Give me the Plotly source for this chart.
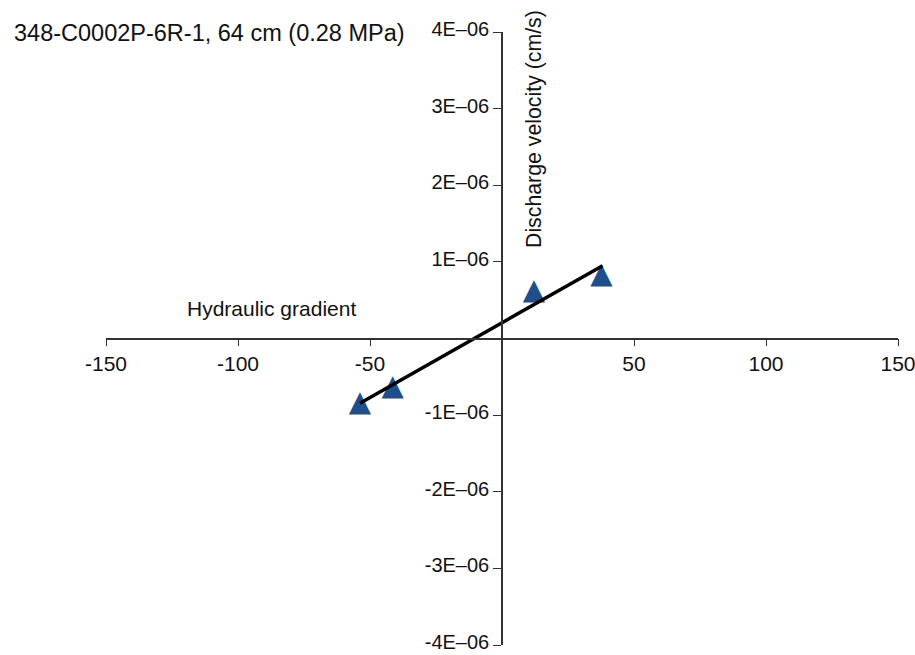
import numpy as np
import plotly.graph_objects as go

# Data
gradient = [-53.8, -41.4, 12.1, 37.7]                 # hydraulic gradient
velocity = [-0.855e-6, -0.647e-6, 0.616e-6, 0.824e-6]  # discharge velocity (cm/s)

x_ticks = [-150, -100, -50, 50, 100, 150]
x_ticklabels = ["-150", "-100", "-50", "50", "100", "150"]
y_ticks = [-4e-6, -3e-6, -2e-6, -1e-6, 1e-6, 2e-6, 3e-6, 4e-6]
y_ticklabels = ["-4E\u201306", "-3E\u201306", "-2E\u201306", "-1E\u201306",
                "1E\u201306", "2E\u201306", "3E\u201306", "4E\u201306"]

title_text = "348-C0002P-6R-1, 64 cm (0.28 MPa)"
x_title = "Hydraulic gradient"
y_title = "Discharge velocity (cm/s)"

# Linear fit line spanning the data
slope, intercept = np.polyfit(gradient, velocity, 1)
fit_x = [min(gradient), max(gradient) + 0.4]
fit_y = [slope * v + intercept for v in fit_x]

FONT = "Liberation Sans, Arial, Helvetica, sans-serif"
AX = "#333333"
TXT = "#111111"

# plot area in pixels (used only to place the free-floating labels)
L, R, T, B = 106, 17, 32, 10
W, H = 915, 655
PW, PH = W - L - R, H - T - B


def px(x):
    return (x - L) / PW


def py(y):
    return (H - B - y) / PH


fig = go.Figure()
fig.add_trace(go.Scatter(
    x=gradient, y=velocity, mode="text", text=["\u25B2"] * len(gradient),
    textposition="middle center",
    textfont=dict(family="DejaVu Sans", size=29, color="#1f4f8a"),
    showlegend=False, hoverinfo="x+y"))
fig.add_trace(go.Scatter(
    x=fit_x, y=fit_y, mode="lines",
    line=dict(color="black", width=3.5),
    showlegend=False, hoverinfo="skip"))

fig.update_layout(
    width=W, height=H,
    margin=dict(l=L, r=R, t=T, b=B, pad=0, autoexpand=False),
    paper_bgcolor="white", plot_bgcolor="white",
    font=dict(family=FONT, size=20, color=TXT),
    xaxis=dict(range=[-150, 150], anchor="free", position=0.5,
               automargin=False,
               showline=True, linecolor=AX, linewidth=1.5,
               ticks="outside", ticklen=7, tickwidth=1.3, tickcolor=AX,
               tickvals=x_ticks, ticktext=x_ticklabels,
               ticklabeloverflow="allow",
               showgrid=False, zeroline=False,
               tickfont=dict(family=FONT, size=21, color=TXT)),
    yaxis=dict(range=[-4e-6, 4e-6], anchor="free", position=0.5,
               automargin=False,
               showline=True, linecolor=AX, linewidth=1.5,
               ticks="outside", ticklen=8, tickwidth=1.3, tickcolor=AX,
               tickvals=y_ticks, ticktext=y_ticklabels,
               ticklabeloverflow="allow", ticklabelshift=-3,
               showgrid=False, zeroline=False,
               tickfont=dict(family=FONT, size=20, color=TXT)),
    annotations=[
        dict(text=title_text, xref="paper", yref="paper", x=px(12), y=py(33),
             xanchor="left", yanchor="middle", showarrow=False,
             font=dict(family=FONT, size=23.5, color=TXT)),
        dict(text=x_title, xref="paper", yref="paper", x=px(271), y=py(308),
             xanchor="center", yanchor="middle", showarrow=False,
             font=dict(family=FONT, size=21, color=TXT)),
        dict(text=y_title, xref="paper", yref="paper", x=px(534), y=py(129),
             xanchor="center", yanchor="middle", showarrow=False, textangle=-90,
             font=dict(family=FONT, size=21.3, color=TXT)),
    ],
)

fig.write_html("out.html", config={"displayModeBar": False},
               post_script="document.body.style.margin='0';")
